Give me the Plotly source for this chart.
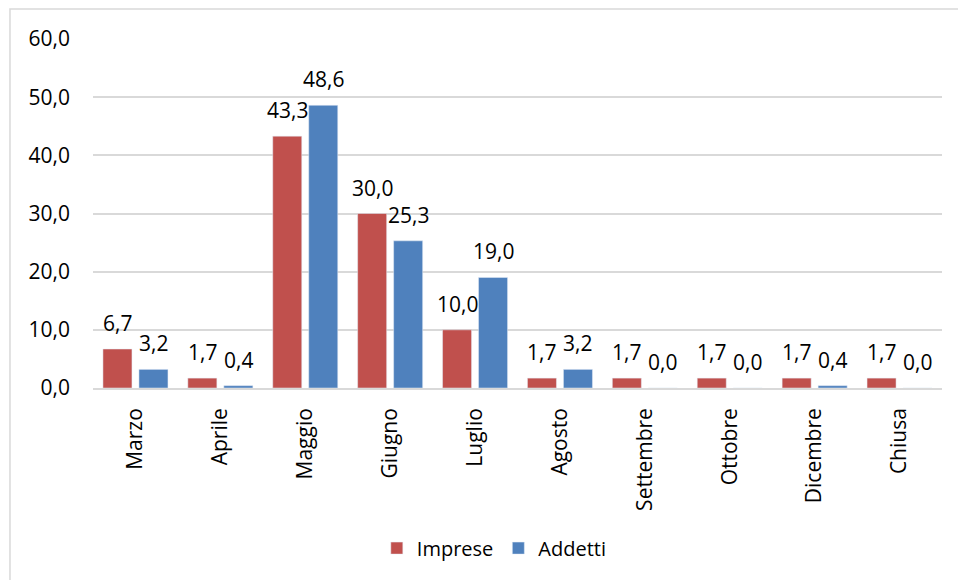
import plotly.graph_objects as go

mesi = ["Marzo", "Aprile", "Maggio", "Giugno", "Luglio", "Agosto",
        "Settembre", "Ottobre", "Dicembre", "Chiusa"]
imprese = [6.7, 1.7, 43.3, 30.0, 10.0, 1.7, 1.7, 1.7, 1.7, 1.7]
addetti = [3.2, 0.4, 48.6, 25.3, 19.0, 3.2, 0.0, 0.0, 0.4, 0.0]
y_ticks = [0, 10, 20, 30, 40, 50, 60]

FONT = "Open Sans, sans-serif"
ROSSO = "#C0504D"
BLU = "#4F81BD"
GRIGIO = "#d9d9d9"


def fmt(v):
    return f"{v:.1f}".replace(".", ",")


fig = go.Figure()
fig.add_trace(go.Bar(x=mesi, y=imprese, name="Imprese", marker_color=ROSSO))
fig.add_trace(go.Bar(x=mesi, y=addetti, name="Addetti", marker_color=BLU))

# value labels above each bar of the two grouped series
labels = []
for serie, dx in ((imprese, -18), (addetti, 18)):
    for m, v in zip(mesi, serie):
        labels.append(dict(x=m, y=v, text=fmt(v), showarrow=False,
                           xref="x", yref="y", xanchor="center", yanchor="bottom",
                           xshift=dx, yshift=10,
                           font=dict(size=21, family=FONT, color="#000000")))

fig.update_layout(
    width=958, height=580,
    margin=dict(l=93, r=16, t=39, b=192),
    paper_bgcolor="white", plot_bgcolor="white",
    separators=",.",
    barmode="group", bargap=0.152, bargroupgap=0.194,
    font=dict(family=FONT, size=21, color="#000000"),
    showlegend=True,
    legend=dict(orientation="h", xref="container", yref="container",
                x=0.516, xanchor="center", y=0.055, yanchor="middle",
                font=dict(size=20, family=FONT), traceorder="normal"),
    xaxis=dict(tickangle=-90, tickfont=dict(size=21, family=FONT),
               showline=True, linecolor=GRIGIO, linewidth=1.5,
               ticks="", showgrid=False, automargin=False,
               ticklabelstandoff=10),
    yaxis=dict(range=[0, 60], tickvals=y_ticks, tickformat=".1f",
               tickfont=dict(size=21, family=FONT),
               showgrid=True, gridcolor=GRIGIO, gridwidth=1.5,
               zeroline=False, showline=False, ticks="",
               ticklabelstandoff=22, automargin=False),
    annotations=labels,
    shapes=[dict(type="rect", xref="paper", yref="paper",
                 x0=-0.0978, x1=1.03, y0=-0.57, y1=1.086,
                 line=dict(color=GRIGIO, width=1.5), layer="below")],
)

fig.write_html("out.html")
